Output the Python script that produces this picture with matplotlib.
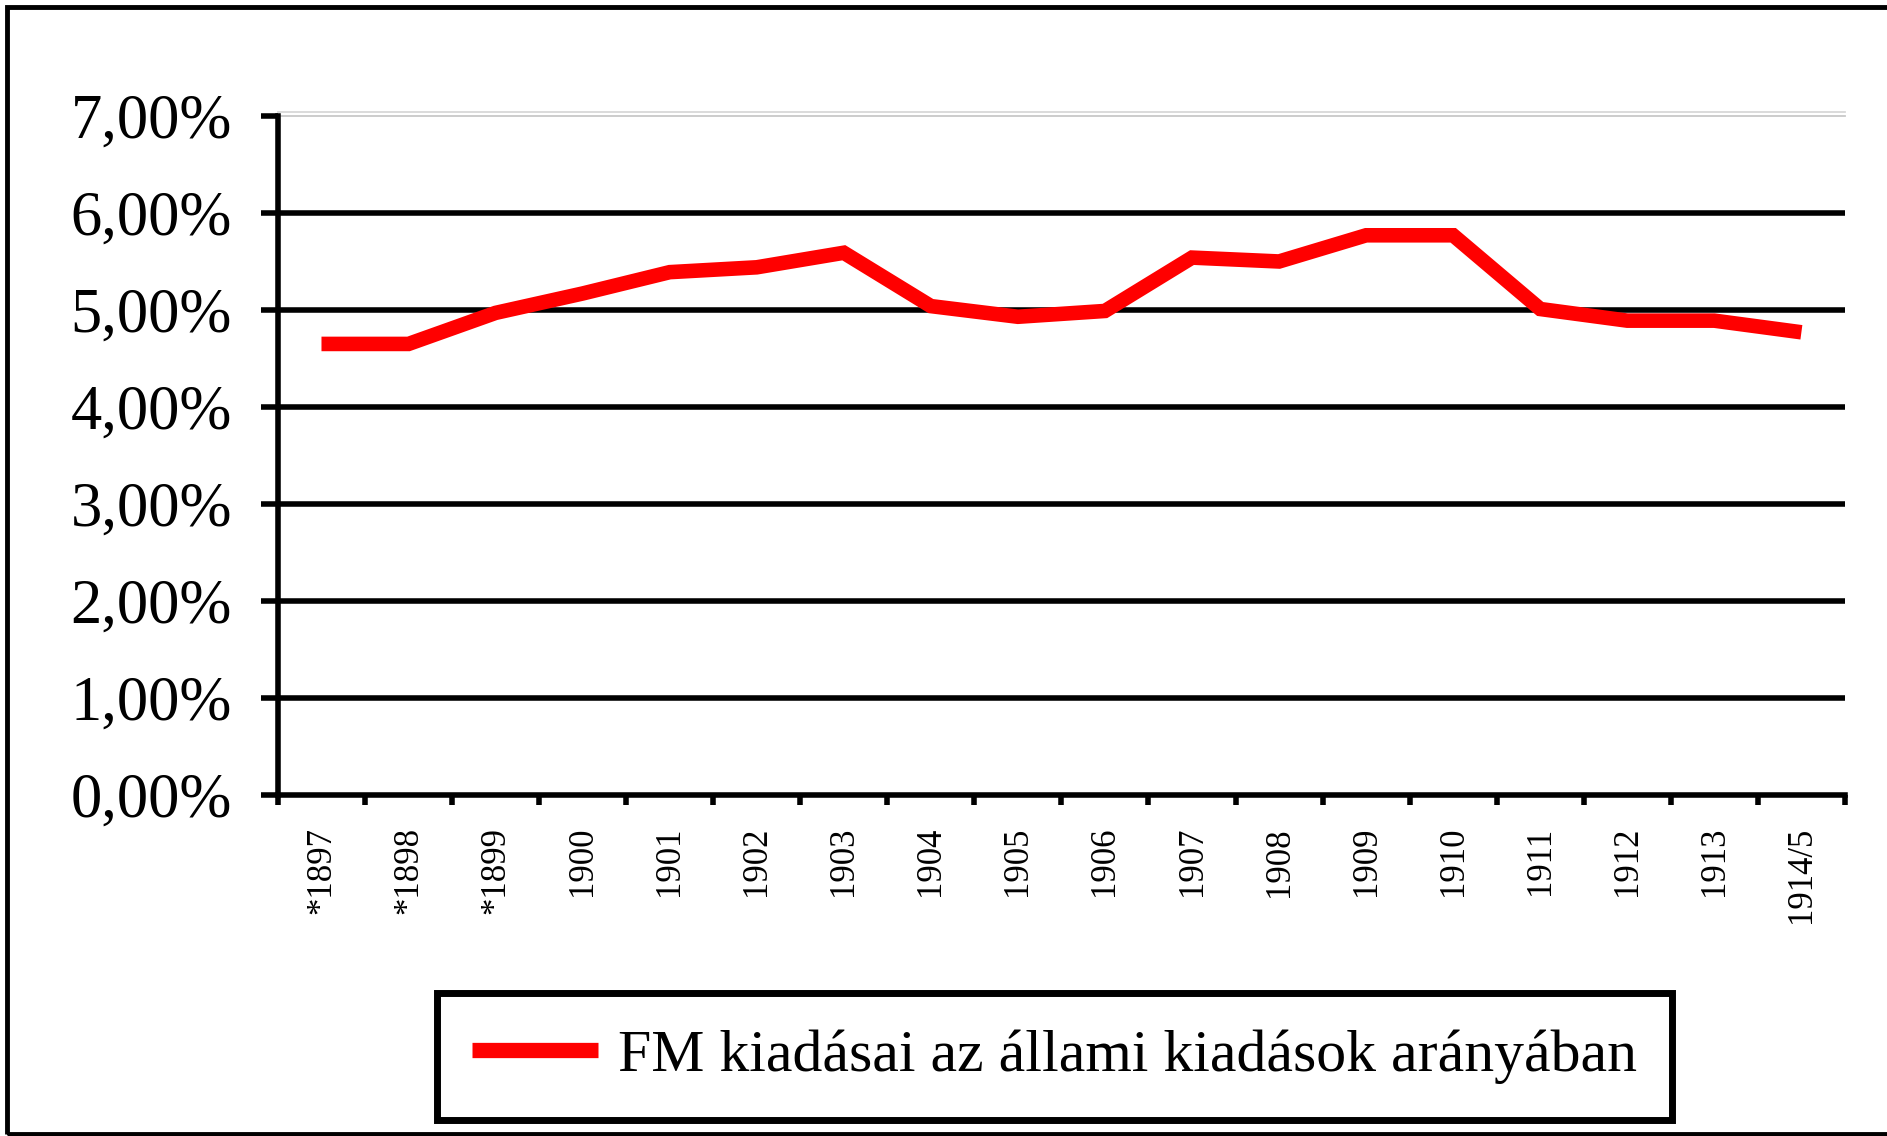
import numpy as np
import matplotlib
matplotlib.use("Agg")
import matplotlib.pyplot as plt
from matplotlib.patches import Rectangle

plt.rcParams['font.family'] = ['Liberation Serif', 'DejaVu Serif']

years = ["*1897", "*1898", "*1899", "1900", "1901", "1902", "1903", "1904",
         "1905", "1906", "1907", "1908", "1909", "1910", "1911", "1912",
         "1913", "1914/5"]
# FM kiadasai az allami kiadasok aranyaban, szazalekban
share = [4.65, 4.65, 4.97, 5.17, 5.39, 5.44, 5.59, 5.04, 4.93, 4.99,
         5.54, 5.50, 5.77, 5.77, 5.01, 4.89, 4.89, 4.77]
yticks = [0, 1, 2, 3, 4, 5, 6, 7]
series_name = "FM kiadásai az állami kiadások arányában"

fig = plt.figure(figsize=(18.87, 11.36), dpi=100)
ax = fig.add_axes([0.1473, 0.3002, 0.8304, 0.5977])

x = np.arange(len(years))

# thick black gridlines, light grey one at the top
for v in yticks[1:-1]:
    ax.axhline(v, color='black', lw=4, zorder=1)
ax.axhline(7, color='#c8c8c8', lw=1.3, zorder=1, clip_on=False)
ax.plot([-0.5, 17.5], [7.045, 7.045], color='#d8d8d8', lw=1.3,
        clip_on=False, zorder=1)

ax.plot(x, share, color='#ff0000', lw=10.5, solid_joinstyle='miter',
        solid_capstyle='butt', zorder=3, label=series_name)

ax.set_xlim(-0.5, len(years) - 0.5)
ax.set_ylim(0, 7)

for s in ['top', 'right']:
    ax.spines[s].set_visible(False)
for s in ['left', 'bottom']:
    ax.spines[s].set_linewidth(4)

ax.set_yticks(yticks)
ax.set_yticklabels([f"{v:.2f}%".replace('.', ',') for v in yticks],
                   fontsize=45)
ax.tick_params(axis='y', length=12, width=4, pad=21)

ax.set_xticks(np.arange(-0.5, len(years), 1.0))
ax.set_xticklabels([])
ax.tick_params(axis='x', which='major', length=7, width=4)
ax.set_xticks(x, minor=True)
ax.set_xticklabels(years, minor=True, rotation=90, fontsize=25,
                   va='top', ha='center')
ax.tick_params(axis='x', which='minor', length=0, pad=23)

leg = fig.legend(loc='center', bbox_to_anchor=(0.5588, 0.070), fontsize=43,
                 frameon=True, fancybox=False, edgecolor='black',
                 framealpha=1, handlelength=2.1, handletextpad=0.33,
                 borderpad=0.6, borderaxespad=0)
leg.get_frame().set_linewidth(5)
for line in leg.get_lines():
    line.set_linewidth(11)

# outer chart border
fig.patches.append(Rectangle((0.0037, 0.0018), 1.2, 0.9918,
                             transform=fig.transFigure, fill=False,
                             edgecolor='black', lw=3.5))

fig.savefig("out.png", dpi=100)
